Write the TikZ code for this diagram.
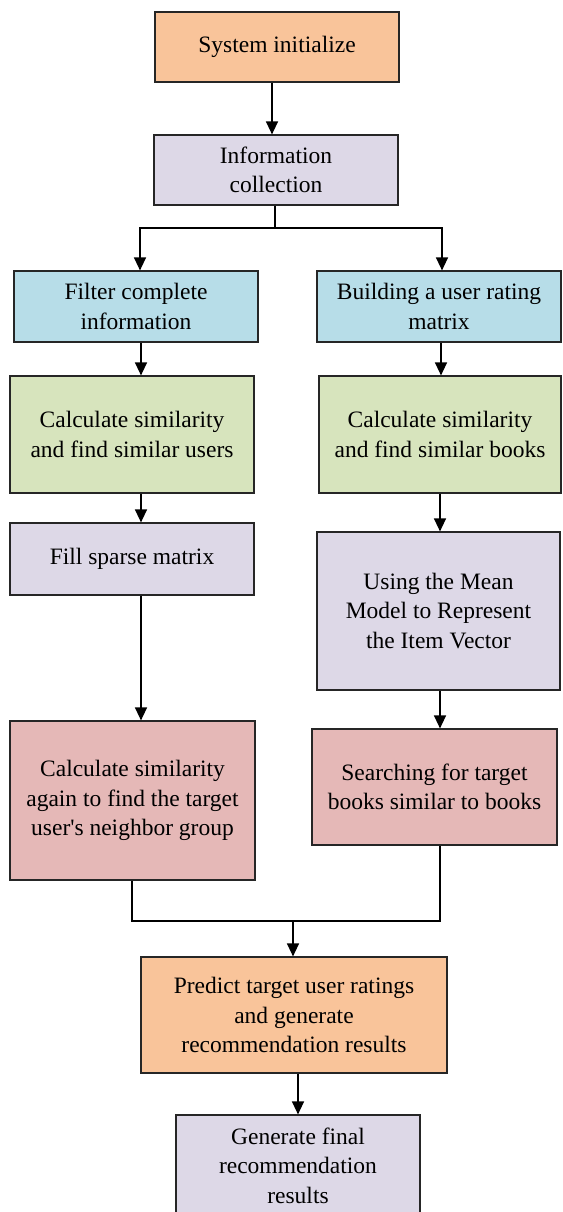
\documentclass[tikz,border=0pt]{standalone}
\usepackage{fontspec}
\setmainfont{Liberation Serif}
\newfontfamily\boxfont{Liberation Serif}
\usetikzlibrary{arrows.meta}

\definecolor{cOrange}{HTML}{F9C49A}
\definecolor{cLav}{HTML}{DDD8E7}
\definecolor{cBlue}{HTML}{B7DDE8}
\definecolor{cGreen}{HTML}{D7E4BD}
\definecolor{cPink}{HTML}{E5B8B7}

\begin{document}
\begin{tikzpicture}[x=1pt,y=-1pt,
  box/.style={draw=black!85, line width=1.2pt, rectangle, inner sep=0pt,
    align=center, font=\boxfont\fontsize{23.5}{29.5}\selectfont},
  arr/.style={line width=1.3pt, -{Triangle[width=12pt,length=13pt]}},
  ln/.style={line width=1.3pt}]
\useasboundingbox (0,0) rectangle (562,1212);

% boxes
\node[box, fill=cOrange, minimum width=244pt, minimum height=70pt] (init) at (277,47) {System initialize};
\node[box, fill=cLav, minimum width=244pt, minimum height=70pt] (info) at (276,170) {Information\\collection};
\node[box, fill=cBlue, minimum width=244pt, minimum height=71pt] (filter) at (136,306.5) {Filter complete\\information};
\node[box, fill=cBlue, minimum width=244pt, minimum height=71pt] (build) at (439,306.5) {Building a user rating\\matrix};
\node[box, fill=cGreen, minimum width=244pt, minimum height=117pt] (simu) at (132,434.5) {Calculate similarity\\and find similar users};
\node[box, fill=cGreen, minimum width=242pt, minimum height=117pt] (simb) at (440,434.5) {Calculate similarity\\and find similar books};
\node[box, fill=cLav, minimum width=244pt, minimum height=72pt] (fill) at (132,559) {Fill sparse matrix};
\node[box, fill=cLav, minimum width=243pt, minimum height=158pt] (mean) at (438.5,611) {Using the Mean\\Model to Represent\\the Item Vector};
\node[box, fill=cPink, minimum width=245pt, minimum height=159pt] (again) at (132.5,800.5) {Calculate similarity\\again to find the target\\user\textquotesingle s neighbor group};
\node[box, fill=cPink, minimum width=245pt, minimum height=116pt] (search) at (434.5,787) {Searching for target\\books similar to books};
\node[box, fill=cOrange, minimum width=306pt, minimum height=116pt] (predict) at (294,1015) {Predict target user ratings\\and generate\\recommendation results};
\node[box, fill=cLav, minimum width=244pt, minimum height=101pt] (final) at (298,1165.5) {Generate final\\recommendation\\results};

% junction points
\coordinate (split) at (275,228);
\coordinate (merge) at (293,921);

% connectors
\draw[arr] ([xshift=-4pt]info.north |- init.south) -- ([xshift=-4pt]info.north);
\draw[ln] ([xshift=-1pt]info.south) -- (split);
\draw[arr] (split) -| ([xshift=4pt]filter.north);
\draw[arr] (split) -| ([xshift=3pt]build.north);
\draw[arr] ([xshift=5pt]filter.south) -- ([xshift=5pt]filter.south |- simu.north);
\draw[arr] ([xshift=2pt]build.south) -- ([xshift=2pt]build.south |- simb.north);
\draw[arr] ([xshift=9pt]simu.south) -- ([xshift=9pt]simu.south |- fill.north);
\draw[arr] ([xshift=9pt]fill.south) -- ([xshift=9pt]fill.south |- again.north);
\draw[arr] (simb.south) -- (simb.south |- mean.north);
\draw[arr] ([xshift=1.5pt]mean.south) -- ([xshift=1.5pt]mean.south |- search.north);
\draw[ln] ([xshift=-0.5pt]again.south) -- ([xshift=-0.5pt]again.south |- merge) -- ([xshift=5.5pt]search.south |- merge) -- ([xshift=5.5pt]search.south);
\draw[arr] (merge) -- (merge |- predict.north);
\draw[arr] (final.north |- predict.south) -- (final.north);
\end{tikzpicture}
\end{document}
